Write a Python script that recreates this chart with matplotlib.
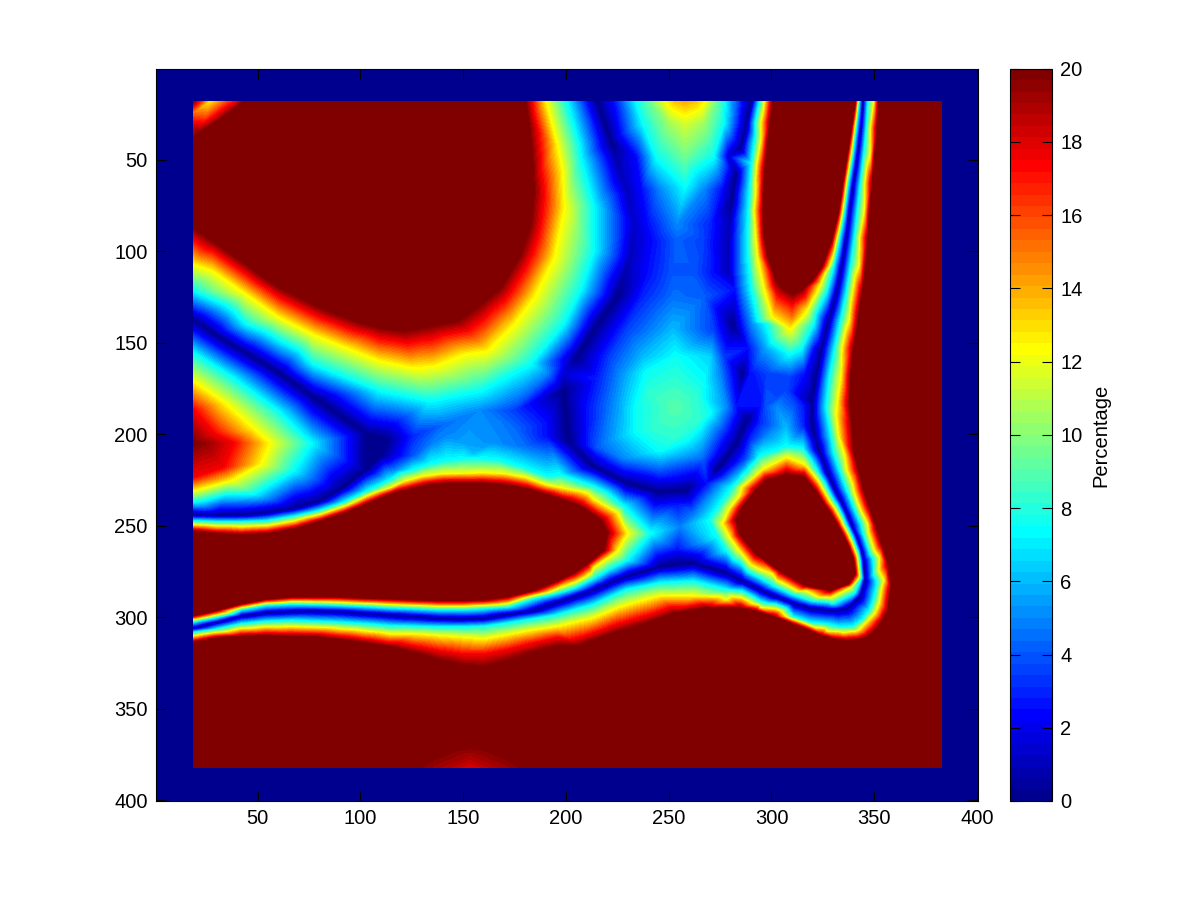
import numpy as np
import matplotlib
matplotlib.use('Agg')
import matplotlib.pyplot as plt
from matplotlib.colors import LinearSegmentedColormap

plt.rcParams['font.family'] = ['Liberation Sans', 'DejaVu Sans']

# samples, as (x, y) in image coordinates
# edge of the dark red plateaus, value 20
ridge_20 = [
    (18.7, 18), (100, 18), (382.5, 18), (382.5, 200), (382.5, 382.3), (18.7, 382.3), (18.7, 345), (280, 345), (120, 60),
    (43.8, 18), (36.5, 24.8), (28.4, 31.1), (21.9, 35.7), (18.7, 39.3),
    (18.7, 86.7), (28.4, 94), (36, 100), (44.6, 106.7), (52, 113), (60.9, 119.5), (69, 124), (77.1, 128.6), (85, 132.5),
    (93.3, 135.9), (101, 139), (109.5, 141.3), (120.9, 143.1), (133.9, 140.4), (146.8, 137.7), (158.2, 128.6),
    (167.9, 119.5), (177.6, 101.3), (182.5, 84.9), (184.1, 66.6), (183.3, 48.4), (181.7, 30.2), (180, 18),
    # lens between the two lower valleys
    (18.7, 253.3), (30, 254.5), (42, 255.2), (55, 254.5), (68, 252), (80, 248), (92, 243.5), (103, 238.5), (115, 233),
    (125.7, 230), (133, 228), (142, 227), (150, 227), (158.2, 227), (166, 227.5), (174.4, 228.7), (182, 230.5), (190.6, 233.3), (199, 236.5), (206.8, 239.7),
    (216.6, 247), (219.8, 254.2), (218.2, 263.3), (210.1, 270.6), (203, 276), (196, 279.7), (184, 285.2), (172, 288.5),
    (160, 290.3), (150, 290.7), (138, 290.7), (126, 290.3), (114, 289.8), (102, 289.4), (90, 288.8), (78, 288.8),
    (66, 288.8), (54, 290), (42, 292.5), (30, 296.1), (18.7, 299),
    # band below the long valley
    (18.7, 314), (30, 311.6), (42, 310.7), (54, 310.3), (66, 310.7), (78, 311), (90, 312.5), (102, 314.3), (114, 316.5),
    (126, 319.8), (138, 323.8), (150, 327), (160, 328), (172, 324.4), (184, 319.8), (196, 316.2), (205.2, 316.2),
    (221.4, 309.8), (237.7, 304.3), (253.9, 297.9), (268.5, 295.2), (284.7, 295.2), (292.5, 297), (300.9, 299.8), (309, 303.5), (317.1, 307),
    (324, 310.3), (331.7, 312.5), (337, 313), (343.1, 312.5), (347.5, 310.5), (351.2, 307), (354.5, 302), (356.9, 296.1),
    (358.5, 283.4), (356.9, 270.6), (354, 260), (351.2, 250.6), (348, 240), (344.7, 228.7), (342.5, 219), (340.6, 210.5),
    (339.5, 196), (338.2, 183), (338.7, 168), (340.2, 153), (342.3, 138), (344.4, 123), (346, 108),
    (347.1, 93), (348, 78), (349.2, 63), (350.4, 48), (351.5, 33), (352.3, 18),
    # narrow plateau at upper right
    (300.9, 18), (299.5, 30), (298.5, 39.3), (297, 55), (296.4, 66.6), (296.2, 78), (296.4, 88.5), (298.5, 103), (302.5, 115.8),
    (306.5, 120.5), (310.6, 123.1), (315, 120.5), (319.6, 115.8), (324.4, 108), (329.3, 93), (332.5, 78), (334.5, 63), (336.6, 48), (338.7, 33), (340.7, 18),
    # triangular plateau
    (297.7, 225.1), (307.4, 222.4), (315.5, 223.3), (322, 232.4), (325, 238), (328.5, 243.3), (332, 250), (335, 256.1), (337.5, 262), (339.8, 268.8),
    (340.6, 276.1), (337.4, 281.5), (328.5, 285.2), (317.1, 282.5), (304.2, 274.3), (292.8, 265.2), (284.7, 254.2),
    (283.1, 247), (286.3, 239.7), (292.8, 230.5),
    # faint patch on the bottom edge
    (125, 382.3), (182, 382.3), (134, 376), (173, 376), (144, 371.5), (163, 371.5), (153.3, 370),
]

# yellow band, value 12.5
band_yellow = [
    (26.8, 18), (18.7, 106.7), (28.4, 110.4), (44.6, 123.1), (60.9, 135.9), (77.1, 145), (93.3, 152.3), (109.5, 159.5),
    (125.7, 163.2), (135.5, 162.3), (150.1, 155.9), (161.4, 154), (174.4, 139.5), (184.1, 124.9), (193.9, 103.1),
    (198.7, 75.8), (195.5, 43), (189.8, 18),
    (18.7, 172), (33.3, 183.2), (47.9, 197.8), (55.2, 205), (51.1, 216), (36.5, 225), (18.7, 230.5),
    (115, 229.5), (122, 226), (130, 223.5), (140, 222), (150, 221.8), (160, 221.5), (170, 222), (180, 224), (190, 228),
    (197.1, 283.3), (213.3, 272.4), (221, 266.5), (224.7, 263.3), (229.5, 254.2), (224.7, 243.3), (213.3, 236), (197.1, 229.6),
    (126, 309.5), (138, 310.5), (150, 311.5), (160, 312.5), (172, 310), (184, 307.5), (196, 305.5), (213.3, 301),
    (245.8, 288.8), (262, 288.8), (278.2, 291), (294.4, 295),
    (326.9, 308), (335, 308.9), (346.3, 303.4), (352.8, 292.5), (355.2, 279.7), (352.8, 267), (347.1, 248.8), (339.8, 226.9), (335.8, 210.5),
    # right band, going up
    (333, 200), (332.5, 183), (334.2, 168), (338.2, 138), (343, 108), (345.5, 78), (348.3, 48), (350.1, 18),
    # narrow plateau, left side and tip
    (296.9, 18), (295.2, 39.3), (292.8, 66.6), (292.5, 88.5), (293.6, 103),
    (309, 142), (300.9, 135.9), (297, 121), (317, 132), (323.6, 117.6),
    # triangular plateau
    (307.4, 213.2), (316, 217), (319, 221), (325.5, 232), (332.5, 245), (338.2, 258), (341.8, 270),
    (296, 219.6), (284.7, 234.2), (280, 241), (276.6, 248.8), (280, 256), (284.7, 263.3), (300.9, 276.1),
    (317.1, 285.2), (328.5, 288.8), (338.2, 283.4),
    (249, 18), (267, 18),
]

# cyan band, value 7.5
band_cyan = [
    (200, 18), (207, 50), (213, 76), (213, 100), (206.8, 121),
    (18.7, 121.3), (44.6, 139.5), (77.1, 161.4), (109.5, 175.9), (133.9, 181.4), (158.2, 175.9), (182.5, 161.4), (198.7, 139.5),
    (18.7, 156), (36.5, 168.6), (60.9, 188.7), (75.5, 205), (67.3, 219.6), (47.9, 232.4), (18.7, 236.9),
    (18.7, 247.5), (30, 248), (42, 248), (55, 247.5), (68, 245), (80, 242), (92, 237.5), (103, 231.5), (114, 225.5), (125.7, 219.6),
    (134, 216.5), (142, 214.5), (150, 213.5), (158, 213.5), (166.3, 214), (178, 218), (190.6, 223.3),
    (197.1, 222.4), (213.3, 228.7), (227.9, 239.7), (240.9, 254.2), (229.5, 268.8), (221, 273.5), (213.3, 278.6), (205, 283.5),
    # above the long valley
    (18.7, 302.5), (30, 300), (42, 295.8), (54, 293.4), (66, 292.8), (78, 293), (90, 293.4), (102, 294), (114, 294.7),
    (126, 295.2), (138, 295.8), (150, 295.8), (160, 295.2), (172, 294.3), (184, 289.8), (196, 286.7),
    # below the long valley
    (18.7, 308.5), (30, 306.7), (42, 303.8), (54, 302.5), (66, 302), (78, 302.5), (90, 303), (102, 303.8), (114, 304.9),
    (126, 305.2), (138, 305.6), (150, 305.6), (160, 305.2), (172, 303.4), (184, 301.2), (196, 298.9), (205, 296),
    (213.3, 293.4), (229.5, 285.2), (245.8, 281.5), (262, 280.6), (278.2, 285.2), (294.4, 291.5), (310.6, 300), (318.5, 303),
    (326.9, 304), (333, 305.5), (339.8, 305.2), (344.5, 301.5), (348, 296.1), (350, 290), (351.2, 283.4), (348, 265.2), (345, 255), (341.5, 243.3),
    (337.5, 232), (333.4, 219.6), (330.5, 210), (329.3, 201.4),
    (326.9, 185), (328.5, 168), (331, 153), (333.8, 138), (336.6, 123), (338.7, 108), (340.5, 93), (342, 78), (343.4, 63),
    (345, 48), (346.3, 33), (347.1, 18),
    (342.6, 18), (341.1, 33), (339.4, 48), (337.2, 63), (335.5, 78), (333, 93), (330.1, 108),
    (326.9, 121.3), (320.4, 139.5), (314.4, 153), (309, 156), (297.7, 139.5), (290.4, 121), (288.8, 103), (288.8, 88.5), (289, 78), (289.6, 66.6),
    (290.5, 52), (292, 39.3), (294.4, 18),
    (307.4, 206.9), (315, 208), (294.4, 212.3), (281.4, 228.7), (275.5, 238), (270, 247), (274, 256), (278.2, 263.3), (294.4, 278.2),
    # inner side of the triangular plateau
    (302, 283), (310.6, 287.5), (320, 291), (330, 292.5), (340.5, 286.5), (343, 280), (343, 270), (339.8, 258), (334.5, 245), (328, 232), (322.5, 221),
    (253.9, 157.7), (266.8, 172.3), (270, 188.7), (258.7, 203), (245.8, 208.7), (234.4, 197.8), (234.4, 185), (239.3, 166.8),
    (234.4, 18), (277, 18), (237.6, 30), (276.6, 30), (244, 48), (271.7, 48), (258, 64),
]

# dark valley lines, value 0
valley_0 = [
    (18.7, 137.7), (28.4, 145), (44.6, 155.9), (60.9, 166.8), (77.1, 179.6), (93.3, 192.3), (103, 199.6), (113, 203.2), (110, 212),
    (103, 219.6), (90, 230.5), (80, 236.9), (68, 240.6), (55, 243), (42, 244.3), (30, 244.5), (18.7, 244.2),
    (215, 18), (221.4, 39.3), (224.7, 124.9), (213.3, 143.1), (205.2, 157.7), (198.7, 176), (200.4, 197.8), (202, 205),
    (213.3, 217.8), (229.5, 226.9), (244.1, 231.5), (258.7, 230.5), (273.3, 219.6), (283.1, 205), (287.9, 192.3),
    (286.3, 166.8), (281.4, 139.5), (281, 71), (283, 57.5), (285, 44), (288, 30.2), (290.4, 18),
    # long valley, left to right
    (18.7, 306.1), (30, 302.9), (42, 299.4), (54, 297.6), (66, 297), (78, 296.7), (90, 297), (102, 298), (114, 298.9),
    (126, 299.8), (138, 300.7), (150, 301), (160, 300.7), (172, 298.5), (184, 296.5), (197.1, 291.6), (205, 288.5), (213.3, 285.2), (221, 281.5),
    (229.5, 277.9), (245.8, 272.4), (262, 270.6), (278.2, 276.1), (286, 280.5), (294.4, 285.2), (302.5, 289), (310.6, 292.5), (318.5, 295), (326.9, 296.1),
    (332, 296.3), (336.6, 295.2), (343.1, 288.8), (345.5, 279.7), (344.7, 268.8), (343.5, 262.5), (341.5, 256.1), (338.8, 249.5), (336.6, 243.3), (333.5, 236), (330.1, 228.7),
    (327.5, 222), (323.5, 210), (321, 201), (319.9, 192), (319.9, 183), (322, 168), (324.4, 153), (327.7, 138), (331.7, 123), (334.2, 108),
    (336.3, 93), (337.9, 78), (339.8, 63), (341.8, 48), (343.4, 33), (344.4, 18),
]

# single readings elsewhere, as (x, y, value)
spot_values = [
    (18.7, 18, 13.5), (33.3, 18, 15), (40, 18, 17.5), (18.7, 24, 15), (18.7, 30, 17.5), (25, 27, 16),
    (18.7, 205, 20), (24, 205, 19.5), (18.7, 187, 17.5), (28.4, 199.6, 17.5), (38, 205, 17.5), (33.3, 217.8, 17.5), (18.7, 223.3, 17.5),
    (224, 48, 0.5), (226, 57, 0.8), (229.5, 66.6, 1), (232.8, 84.9, 1.2), (231.2, 103, 1), (279, 112.2, 0.8), (279, 98, 0.8), (279.8, 84.9, 0.8),
    # throat at the top, row by row
    (258, 18, 14), (253, 18, 13.5), (263, 18, 13.5), (241, 18, 9.5), (273, 18, 9.5), (224.7, 18, 3), (284.7, 18, 3),
    (258, 30, 11.5), (250.6, 30, 10.5), (266.8, 30, 10.5), (258, 48.4, 9.5), (234.4, 48, 2.5), (279, 48, 1.5),
    (237, 66, 2.5), (246, 66, 5), (267, 66, 5), (276, 66, 2.5),
    (240, 85, 2.5), (254, 85, 5), (270, 85, 3),
    (254, 94, 4.2), (242.5, 94, 2.5), (266.8, 94, 3.5),
    (240, 112, 2.5), (252, 112, 4), (262, 112, 4), (272, 112, 2.5),
    (237.6, 125, 3), (252.2, 125, 4.5), (266.8, 125, 4.2),
    (229.5, 143, 3.5), (252, 143, 6), (271.7, 143, 3.5),
    (221.4, 157.7, 3.5), (237.6, 157.7, 6), (270, 157.7, 6.5), (276.6, 157.7, 3.5),
    # central blob
    (253, 185, 9), (253, 170, 8.2), (263, 178, 8.2), (265, 192, 8.2), (253, 202, 8.2), (242, 197, 8.2), (240, 178, 8.2),
    (210, 185, 2.5), (223, 185, 5), (278, 185, 5), (283, 185, 2.5), (216, 170, 3), (210, 195, 2.5),
    (226.3, 166.8, 5), (275, 168, 5), (215, 207, 4), (228, 213, 5), (245.8, 219.6, 4), (266.8, 214.2, 4),
    # saddle below the blob
    (253.9, 237.8, 2.5), (253.9, 263.3, 2.5), (255.5, 250.6, 4.8), (262, 243.3, 4.5), (270, 234.2, 5),
    (268.5, 226.9, 2.5), (288, 214, 4), (289.6, 203, 3), (297.7, 201.4, 5), (294.4, 194, 3),
    # junction right of the blob
    (282.3, 121, 2.5), (286.3, 121, 5), (285.5, 139.5, 2.5), (290.4, 139.5, 5), (288.7, 153, 2.5), (297, 153, 5.5), (289.6, 167, 2.5), (303, 163, 5),
    (320.4, 153, 2.5), (309, 168.6, 3.5), (297.7, 166.8, 3.5), (316, 166.8, 2.5), (307.4, 176, 3.5),
    (294.4, 185, 2.5), (297.7, 185, 4), (302.5, 185, 5), (310.6, 185, 4), (316.3, 185, 2.5), (315.5, 196, 3), (307, 197, 6),
    # soft tip of the narrow plateau
    (310, 128.6, 17.5), (310, 135.9, 15), (303, 125, 17), (316, 124, 17.5), (322, 115, 17),
    # left saddle
    (125.7, 212, 4), (117.6, 219.6, 5), (135, 205, 4.8), (150, 205, 5.5), (165, 205, 5.2), (180, 207, 4.5),
    (142, 201, 5), (125.7, 201, 3), (174.4, 197.8, 4.5), (190.6, 201.4, 2.5), (155, 210.5, 6), (142, 194, 4.5),
    (174.4, 187, 3.5), (158.2, 187, 5), (190.6, 194, 2.5), (117.6, 194, 2.5), (190.6, 166.8, 5), (198.7, 166.8, 1.5),
    # soft bulge under the long valley
    (126, 316, 17.5), (138, 318.5, 17.5), (150, 320.5, 17.5), (160, 320.5, 17.5), (172, 318, 17.5), (184, 314.5, 17.5), (196, 311.5, 17.5),
    # faint patch on the bottom edge
    (153.3, 382.3, 18), (140, 382.3, 19), (167, 382.3, 19), (153.3, 376, 19),
]

xticks = [50, 100, 150, 200, 250, 300, 350, 400]
yticks = [50, 100, 150, 200, 250, 300, 350, 400]
cticks = list(range(0, 21, 2))
clabel = 'Percentage'

groups = [(ridge_20, 20), (band_yellow, 12.5), (band_cyan, 7.5), (valley_0, 0)]
x = []
y = []
z = []
for pts, val in groups:
    for p in pts:
        x.append(p[0])
        y.append(p[1])
        z.append(val)
for p in spot_values:
    x.append(p[0])
    y.append(p[1])
    z.append(p[2])

# matlab style jet, 64 steps
jet64 = LinearSegmentedColormap.from_list('jet64', [
    (0, (0, 0, 0.5625)), (7 / 63, (0, 0, 1)), (23 / 63, (0, 1, 1)),
    (39 / 63, (1, 1, 0)), (55 / 63, (1, 0, 0)), (1, (0.5, 0, 0))], N=64)

fig = plt.figure(figsize=(12, 9), dpi=100)
ax = fig.add_axes([156 / 1200, 99 / 900, 822 / 1200, 732 / 900])
cax = fig.add_axes([1010 / 1200, 99 / 900, 42 / 1200, 732 / 900])

ax.set_facecolor(jet64(0))
levels = np.linspace(0, 20, 65)
levels[-1] = 20.01
cs = ax.tricontourf(np.array(x), np.array(y), np.array(z), levels=levels, cmap=jet64)
ax.set_xlim(0.5, 400.5)
ax.set_ylim(400.5, 0.5)
ax.set_xticks(xticks)
ax.set_yticks(yticks)
ax.tick_params(direction='in', top=True, right=True, length=7, width=0.8, labelsize=14.5, pad=6)

cb = fig.colorbar(cs, cax=cax)
cb.set_ticks(cticks)
cax.set_ylim(0, 20)
cax.tick_params(direction='in', left=True, right=True, length=7, width=0.8, labelsize=14.5, pad=6)
cb.set_label(clabel, fontsize=14.5, labelpad=6)
cb.outline.set_linewidth(0.8)

fig.savefig('out.png', dpi=100)
